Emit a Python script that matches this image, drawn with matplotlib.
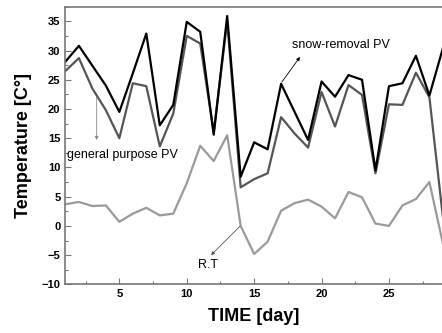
import matplotlib

matplotlib.use("Agg")
import matplotlib.pyplot as plt
from matplotlib.ticker import MultipleLocator

plt.rcParams["font.family"] = ["Liberation Sans", "DejaVu Sans"]

days = list(range(1, 30))
snow_removal = [28.1, 30.8, 27.4, 24.0, 19.5, 26.1, 32.9, 17.2, 20.7, 34.9,
                33.2, 15.6, 35.9, 8.4, 14.3, 13.1, 24.3, 19.5, 14.7, 24.7,
                22.1, 25.8, 25.0, 9.5, 23.9, 24.4, 29.1, 22.3, 30.4]
general_pv = [26.5, 28.7, 23.5, 19.8, 15.0, 24.4, 23.9, 13.6, 19.2, 32.5,
              31.2, 16.0, 35.0, 6.6, 8.0, 9.0, 18.6, 15.8, 13.4, 22.9,
              17.0, 24.1, 22.4, 9.0, 20.8, 20.7, 26.2, 22.0, 1.5]
room_temp = [3.7, 4.1, 3.4, 3.5, 0.7, 2.1, 3.1, 1.8, 2.1, 7.3,
             13.7, 11.1, 15.5, 0.0, -4.8, -2.7, 2.6, 3.9, 4.5, 3.3,
             1.3, 5.8, 4.9, 0.4, 0.0, 3.5, 4.6, 7.5, -3.0]


def arrow(ax, tail, head, color):
    ax.annotate("", xy=head, xytext=tail,
                arrowprops=dict(arrowstyle="-|>", color=color, lw=0.6,
                                shrinkA=0, shrinkB=0, mutation_scale=5))


fig = plt.figure(figsize=(4.42, 3.33), dpi=100)
ax = fig.add_axes([0.148, 0.146, 0.854, 0.834])

ax.plot(days, room_temp, color="#9a9a9a", lw=1.6)
ax.plot(days, general_pv, color="#555555", lw=1.6)
ax.plot(days, snow_removal, color="black", lw=1.6)

ax.set_xlim(1, 29)
ax.set_ylim(-10, 37.5)
ax.xaxis.set_major_locator(MultipleLocator(5))
ax.xaxis.set_minor_locator(MultipleLocator(2.5))
ax.yaxis.set_major_locator(MultipleLocator(5))
ax.yaxis.set_minor_locator(MultipleLocator(2.5))
ax.tick_params(which="both", direction="in", color="#777777", width=0.8)
ax.tick_params(which="major", length=4, labelsize=8)
ax.tick_params(which="minor", length=2)
for lab in ax.get_xticklabels() + ax.get_yticklabels():
    lab.set_fontweight("bold")
for sp in ax.spines.values():
    sp.set_color("#777777")
    sp.set_linewidth(1.2)

ax.set_xlabel("TIME [day]", fontsize=13, fontweight="bold", labelpad=6)
ax.set_ylabel("Temperature [C\u00b0]", fontsize=13, fontweight="bold", labelpad=7)

# labels + pointer arrows
ax.text(17.8, 30.9, "snow-removal PV", fontsize=9, ha="left", va="center")
arrow(ax, (17.05, 24.6), (18.4, 28.9), "black")

ax.text(1.1, 12.1, "general purpose PV", fontsize=9, ha="left", va="center")
arrow(ax, (3.32, 22.0), (3.32, 14.7), "#888888")

ax.text(11.57, -6.7, "R.T", fontsize=9, ha="center", va="center")
arrow(ax, (13.95, -0.05), (11.8, -5.0), "#555555")

fig.savefig("out.png", dpi=100)
